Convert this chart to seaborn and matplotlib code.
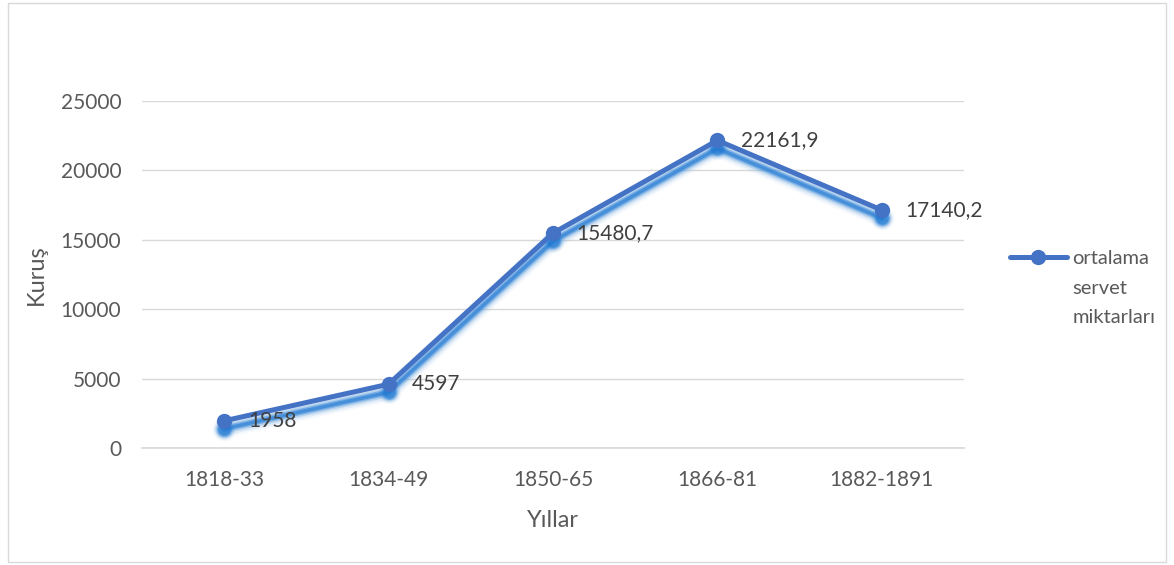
import matplotlib
matplotlib.use("Agg")
import matplotlib.pyplot as plt
import matplotlib.transforms as mtransforms
from matplotlib.lines import Line2D
from matplotlib.patches import Rectangle
import seaborn as sns
import pandas as pd

# Data
periods = ['1818-33', '1834-49', '1850-65', '1866-81', '1882-1891']
servet = [1958, 4597, 15480.7, 22161.9, 17140.2]
value_labels = ['1958', '4597', '15480,7', '22161,9', '17140,2']
yticks = [0, 5000, 10000, 15000, 20000, 25000]
legend_lines = ['ortalama', 'servet', 'miktarları']

LINE_COLOR = '#4472C4'
TEXT_COLOR = '#595959'
GRID_COLOR = '#D9D9D9'

sns.set_theme(style="white")
plt.rcParams['font.family'] = ['Lato', 'DejaVu Sans']

df = pd.DataFrame({'Yıllar': periods, 'Kuruş': servet})

fig = plt.figure(figsize=(11.74, 5.65), dpi=100)
ax = fig.add_axes([142 / 1174, 1 - 448 / 565, (964 - 142) / 1174, (448 - 101) / 565])

# chart border
fig.patches.append(Rectangle((8 / 1174, 3 / 565), 1158 / 1174, 559 / 565,
                             transform=fig.transFigure, fill=False,
                             edgecolor='#D9D9D9', linewidth=1))

# soft glow/shadow under the series (same data, shifted down a few pixels)
shadow_tr = mtransforms.offset_copy(ax.transData, fig=fig, x=0, y=-8, units='dots')
for lw, ms, alpha, col in [(13, 17, 0.10, '#9DC3E6'),
                           (10, 15, 0.18, '#7FB2E5'),
                           (7, 13, 0.30, '#5B9BD5'),
                           (4.5, 11, 0.45, '#2E86DE'),
                           (2.5, 9, 0.55, '#1F77D0')]:
    sns.lineplot(data=df, x='Yıllar', y='Kuruş', ax=ax, color=col, alpha=alpha,
                 linewidth=lw, marker='o', markersize=ms, markeredgewidth=0,
                 sort=False, legend=False, transform=shadow_tr,
                 solid_capstyle='round', solid_joinstyle='round')

sns.lineplot(data=df, x='Yıllar', y='Kuruş', ax=ax, color=LINE_COLOR,
             linewidth=3.6, marker='o', markersize=11, markeredgewidth=0,
             sort=False, legend=False, solid_capstyle='round',
             solid_joinstyle='round')

for i, (v, lab) in enumerate(zip(servet, value_labels)):
    ax.annotate(lab, (i, v), xytext=(17, 0), textcoords='offset points',
                ha='left', va='center', fontsize=15, color='#404040')

ax.set_xlim(-0.5, len(periods) - 0.5)
ax.set_ylim(0, 25000)
ax.set_yticks(yticks)
ax.set_yticklabels([str(t) for t in yticks])
ax.grid(axis='y', color=GRID_COLOR, linewidth=1)
ax.grid(axis='x', visible=False)
ax.set_axisbelow(True)
for s in ['top', 'right', 'left']:
    ax.spines[s].set_visible(False)
ax.spines['bottom'].set_color(GRID_COLOR)
ax.tick_params(axis='y', length=0, pad=15, labelsize=15, labelcolor=TEXT_COLOR)
ax.tick_params(axis='x', length=0, pad=16, labelsize=15, labelcolor=TEXT_COLOR)

ax.set_xlabel('Yıllar', fontsize=17, color=TEXT_COLOR, labelpad=14)
ax.set_ylabel('Kuruş', fontsize=17, color=TEXT_COLOR, labelpad=10)

# legend: first row carries the series symbol, the label wraps onto two more rows
handles = [Line2D([], [], color=LINE_COLOR, linewidth=3.6, marker='o',
                  markersize=11, markeredgewidth=0, solid_capstyle='round')]
handles += [Line2D([], [], linestyle='none') for _ in legend_lines[1:]]
fig.legend(handles, legend_lines, loc='upper left',
           bbox_to_anchor=(992 / 1174, 1 - 232 / 565),
           frameon=False, fontsize=14.5, handlelength=2.8,
           handletextpad=0.3, labelspacing=0.62, labelcolor=TEXT_COLOR)

fig.savefig('out.png', dpi=100)
